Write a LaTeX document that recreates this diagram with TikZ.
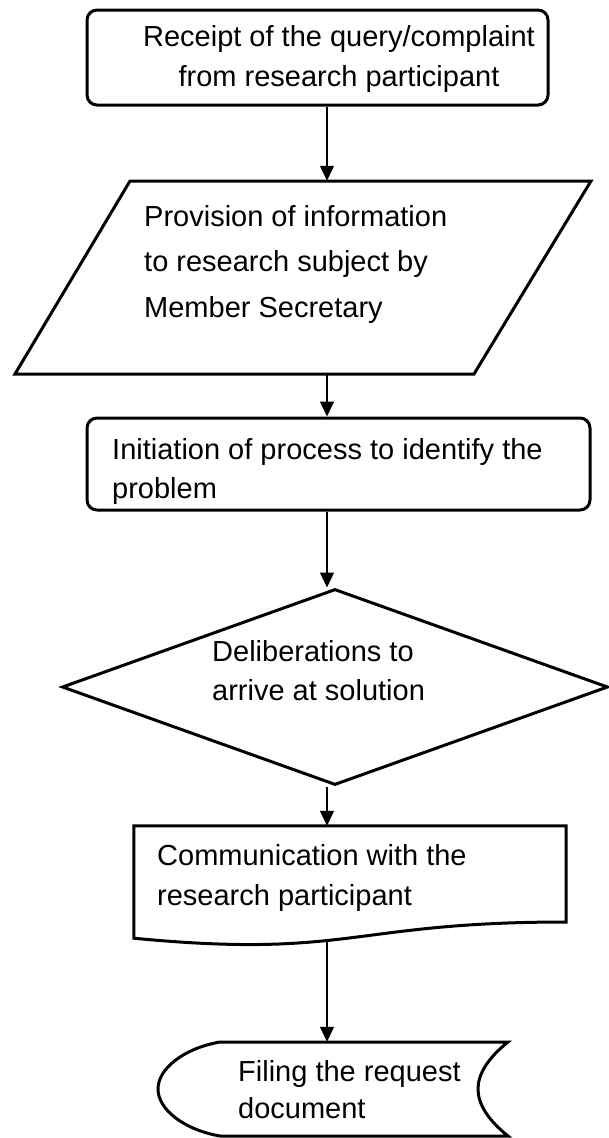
\documentclass[tikz,border=0pt]{standalone}
\usepackage{fontspec}
\setmainfont{Liberation Sans}
\usetikzlibrary{arrows.meta,shapes.geometric}

\begin{document}
\begin{tikzpicture}[x=1pt,y=-1pt,
  every node/.style={font=\fontsize{29}{40}\selectfont},
  outline/.style={draw,line width=3pt,inner sep=0pt},
  blank/.style={inner sep=0pt},
  txt/.style={inner sep=0pt,align=left,anchor=base west},
  flow/.style={line width=1.3pt,-{Triangle[length=15pt,width=14pt]}}]
  \useasboundingbox (0,0) rectangle (608,1138);
  \coordinate (axis) at (327,0);
  % shapes
  \node[outline,rounded corners=10pt,minimum width=461pt,minimum height=95pt] (receipt) at (317.5,57.5) {};
  \node[blank,minimum width=576pt,minimum height=193pt] (provision) at (303,277.5) {};
  \node[outline,rounded corners=10pt,minimum width=503pt,minimum height=92pt] (problem) at (338.5,464) {};
  \node[outline,diamond,minimum width=546pt,minimum height=196pt] (delib) at (335,687) {};
  \node[blank,minimum width=432pt,minimum height=112pt] (comm) at (350,882) {};
  \node[blank,minimum width=350pt,minimum height=94pt] (filing) at (333,1089) {};
  % parallelogram, document and stored data outlines
  \draw[line width=3pt] (130,181) -- (591,181) -- (474,374) -- (15,374) -- cycle;
  \draw[line width=3pt] (566,922) .. controls (350,922) and (350,959) .. (comm.south west)
    -- (comm.north west) -- (comm.north east) -- cycle;
  \draw[line width=3pt] (220,1042) -- (508,1042) .. controls (488,1058) and (478,1074) .. (478,1089)
    .. controls (478,1104) and (488,1120) .. (508,1136) -- (220,1136)
    .. controls (185,1130) and (158,1110) .. (158,1089)
    .. controls (158,1068) and (185,1048) .. (220,1042) -- cycle;
  % texts (base = last line)
  \node[txt,align=center,anchor=base] (receiptlbl) at (339,86) {Receipt of the query/complaint\\from research participant};
  \node[txt,font=\fontsize{29}{45.5}\selectfont] (provisionlbl) at (144,317) {Provision of information\\to research subject by\\Member Secretary};
  \node[txt,font=\fontsize{29}{39}\selectfont] (problemlbl) at (112,498) {Initiation of process to identify the\\problem};
  \node[txt,font=\fontsize{29}{39}\selectfont] (deliblbl) at (212,700) {Deliberations to\\arrive at solution};
  \node[txt] (commlbl) at (157,905) {Communication with the\\research participant};
  \node[txt,font=\fontsize{29}{37}\selectfont] (filinglbl) at (238,1118) {Filing the request\\document};
  % connectors
  \coordinate (commout) at (327,940);
  \draw[flow] (receipt.south -| axis) -- (provision.north -| axis);
  \draw[flow] (provision.south -| axis) -- (problem.north -| axis);
  \draw[flow] (problem.south -| axis) -- (delib.north -| axis);
  \draw[flow] (delib.south -| axis) -- (comm.north -| axis);
  \draw[flow] (commout) -- (filing.north -| axis);
\end{tikzpicture}
\end{document}
